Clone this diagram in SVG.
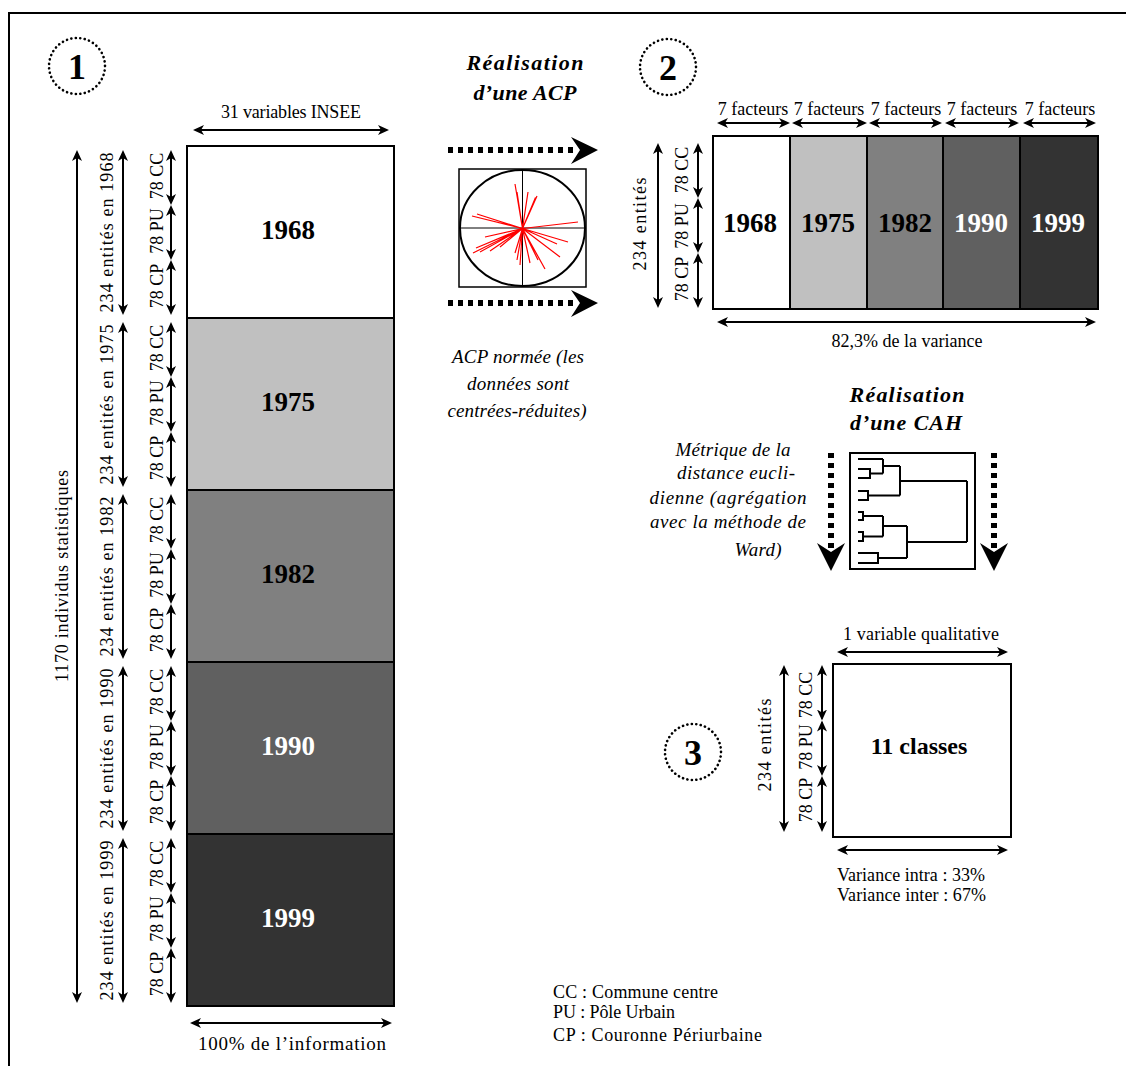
<svg xmlns="http://www.w3.org/2000/svg" width="1126" height="1066" viewBox="0 0 1126 1066">
<style>
text{font-family:"Liberation Serif","DejaVu Serif",serif;fill:#000}
.l{font-size:18px}
.s{font-size:18px}
.yr{font-size:27px;font-weight:bold}
.w{fill:#fff}
.it{font-style:italic;font-size:19px}
.ti{font-style:italic;font-weight:bold;font-size:22px}
.num{font-size:36px;font-weight:bold}
.arr{stroke:#000;stroke-width:2;fill:none;marker-start:url(#ah);marker-end:url(#ah)}
.dot{stroke:#000;stroke-width:6;stroke-dasharray:5 5;fill:none}
.circ{fill:none;stroke:#000;stroke-width:2.6;stroke-dasharray:0.1 4.4;stroke-linecap:round}
.box{stroke:#000;stroke-width:2}
.red{stroke:#f00;stroke-width:1.2}
</style>
<defs>
<marker id="ah" viewBox="0 -6 12 12" refX="9" refY="0" markerWidth="12" markerHeight="12" markerUnits="userSpaceOnUse" orient="auto-start-reverse">
<path d="M0,-5 L11,0 L0,5 L3,0 Z" fill="#000"/>
</marker>
</defs>
<rect width="1126" height="1066" fill="#fff"/>
<path d="M9,1066 V13 H1126" fill="none" stroke="#000" stroke-width="2"/>

<!-- Step 1 -->
<g id="num1"><circle class="circ" cx="77" cy="66" r="28"/><text class="num" x="77" y="79" text-anchor="middle">1</text></g>
<g id="block1">
<rect class="box" x="187" y="146" width="207" height="172" fill="#fff"/>
<rect class="box" x="187" y="318" width="207" height="172" fill="#c0c0c0"/>
<rect class="box" x="187" y="490" width="207" height="172" fill="#808080"/>
<rect class="box" x="187" y="662" width="207" height="172" fill="#606060"/>
<rect class="box" x="187" y="834" width="207" height="172" fill="#333"/>
<text class="yr" x="288" y="239" text-anchor="middle">1968</text>
<text class="yr" x="288" y="411" text-anchor="middle">1975</text>
<text class="yr" x="288" y="583" text-anchor="middle">1982</text>
<text class="yr w" x="288" y="755" text-anchor="middle">1990</text>
<text class="yr w" x="288" y="927" text-anchor="middle">1999</text>
</g>
<g id="labels1">
<text class="l" x="291" y="118" text-anchor="middle" textLength="140">31 variables INSEE</text>
<text x="292" y="1050" text-anchor="middle" font-size="19" textLength="188">100% de l’information</text>
<text class="l" transform="translate(68,576) rotate(-90)" text-anchor="middle" textLength="212">1170 individus statistiques</text>
<text class="l" transform="translate(113,232.5) rotate(-90)" text-anchor="middle" textLength="160">234 entités en 1968</text>
<text class="l" transform="translate(113,404.5) rotate(-90)" text-anchor="middle" textLength="160">234 entités en 1975</text>
<text class="l" transform="translate(113,576.5) rotate(-90)" text-anchor="middle" textLength="160">234 entités en 1982</text>
<text class="l" transform="translate(113,748.5) rotate(-90)" text-anchor="middle" textLength="160">234 entités en 1990</text>
<text class="l" transform="translate(113,920.5) rotate(-90)" text-anchor="middle" textLength="160">234 entités en 1999</text>
<g text-anchor="middle">
<text class="l" transform="translate(163,176) rotate(-90)">78 CC</text>
<text class="l" transform="translate(163,231) rotate(-90)">78 PU</text>
<text class="l" transform="translate(163,286) rotate(-90)">78 CP</text>
<text class="l" transform="translate(163,348) rotate(-90)">78 CC</text>
<text class="l" transform="translate(163,403) rotate(-90)">78 PU</text>
<text class="l" transform="translate(163,458) rotate(-90)">78 CP</text>
<text class="l" transform="translate(163,520) rotate(-90)">78 CC</text>
<text class="l" transform="translate(163,575) rotate(-90)">78 PU</text>
<text class="l" transform="translate(163,630) rotate(-90)">78 CP</text>
<text class="l" transform="translate(163,692) rotate(-90)">78 CC</text>
<text class="l" transform="translate(163,747) rotate(-90)">78 PU</text>
<text class="l" transform="translate(163,802) rotate(-90)">78 CP</text>
<text class="l" transform="translate(163,864) rotate(-90)">78 CC</text>
<text class="l" transform="translate(163,919) rotate(-90)">78 PU</text>
<text class="l" transform="translate(163,974) rotate(-90)">78 CP</text>
</g>
</g>

<!-- ACP -->
<g id="acp-title">
<text class="ti" x="525" y="70" text-anchor="middle" textLength="117">Réalisation</text>
<text class="ti" x="525" y="100" text-anchor="middle" textLength="103">d’une ACP</text>
</g>
<g id="acp-plot">
<rect x="459" y="169" width="127" height="118" fill="#fff" stroke="#000" stroke-width="1.5"/>
<ellipse cx="522.5" cy="228" rx="62.5" ry="58" fill="none" stroke="#000" stroke-width="2"/>
<path d="M522.5,169 V287 M459,228 H586" stroke="#000" stroke-width="1"/>
<g class="red">
<path d="M522.5,228.5 L515,184 M522.5,228.5 L517,192 M522.5,228.5 L528,192 M522.5,228.5 L537,196 M522.5,228.5 L535.5,197.5 M522.5,228.5 L477,214 M522.5,228.5 L472,216 M522.5,228.5 L578,222 M522.5,228.5 L485,237 M522.5,228.5 L473,253 M522.5,228.5 L480,252 M522.5,228.5 L490,251 M522.5,228.5 L500,247 M522.5,228.5 L568,242 M522.5,228.5 L557,244 M522.5,228.5 L560,257 M522.5,228.5 L545,269 M522.5,228.5 L530,263 M522.5,228.5 L517,260 M522.5,228.5 L515,253 M522.5,228.5 L538,260 M522.5,228.5 L476,248 M522.5,228.5 L520,265"/>
</g>
</g>
<g id="acp-text">
<text class="it" x="518" y="363" text-anchor="middle" textLength="132">ACP normée (les</text>
<text class="it" x="518" y="390" text-anchor="middle" textLength="102">données sont</text>
<text class="it" x="517" y="417" text-anchor="middle" textLength="139">centrées-réduites)</text>
</g>

<!-- Step 2 -->
<g id="num2"><circle class="circ" cx="668" cy="67" r="28"/><text class="num" x="668" y="80" text-anchor="middle">2</text></g>
<g id="block2">
<rect class="box" x="713" y="136" width="77" height="173" fill="#fff"/>
<rect class="box" x="790" y="136" width="77" height="173" fill="#c0c0c0"/>
<rect class="box" x="867" y="136" width="76" height="173" fill="#808080"/>
<rect class="box" x="943" y="136" width="77" height="173" fill="#606060"/>
<rect class="box" x="1020" y="136" width="78" height="173" fill="#333"/>
<text class="yr" x="750" y="232" text-anchor="middle">1968</text>
<text class="yr" x="828" y="232" text-anchor="middle">1975</text>
<text class="yr" x="905" y="232" text-anchor="middle">1982</text>
<text class="yr w" x="981" y="232" text-anchor="middle">1990</text>
<text class="yr w" x="1058" y="232" text-anchor="middle">1999</text>
</g>
<g id="labels2">
<text class="l" x="753" y="115" text-anchor="middle">7 facteurs</text>
<text class="l" x="829" y="115" text-anchor="middle">7 facteurs</text>
<text class="l" x="906" y="115" text-anchor="middle">7 facteurs</text>
<text class="l" x="982" y="115" text-anchor="middle">7 facteurs</text>
<text class="l" x="1060" y="115" text-anchor="middle">7 facteurs</text>
<text class="l" x="907" y="347" text-anchor="middle" textLength="151">82,3% de la variance</text>
<text class="l" transform="translate(646,224) rotate(-90)" text-anchor="middle" textLength="93">234 entités</text>
<text class="l" transform="translate(688,170) rotate(-90)" text-anchor="middle">78 CC</text>
<text class="l" transform="translate(688,226) rotate(-90)" text-anchor="middle">78 PU</text>
<text class="l" transform="translate(688,279) rotate(-90)" text-anchor="middle">78 CP</text>
</g>

<!-- CAH -->
<g id="cah-title">
<text class="ti" x="907" y="402" text-anchor="middle" textLength="115">Réalisation</text>
<text class="ti" x="906" y="430" text-anchor="middle" textLength="112">d’une CAH</text>
</g>
<g id="cah-text">
<text class="it" x="733" y="456" text-anchor="middle" textLength="115">Métrique de la</text>
<text class="it" x="736" y="479" text-anchor="middle" textLength="118">distance eucli-</text>
<text class="it" x="728" y="504" text-anchor="middle" textLength="157">dienne (agrégation</text>
<text class="it" x="728" y="528" text-anchor="middle" textLength="156">avec la méthode de</text>
<text class="it" x="758" y="556" text-anchor="middle" textLength="47">Ward)</text>
</g>
<g id="cah-plot">
<rect x="850" y="453" width="125" height="116" fill="#fff" stroke="#000" stroke-width="2"/>
<path fill="none" stroke="#000" stroke-width="2" d="M858,459 H883 M858,469 H870 V478 H858 M870,473.5 H883 M883,459 V473.5 M883,466 H900 M858,491 H868 V500 H858 M868,495.5 H900 M900,466 V495.5 M900,481 H967 M858,512 H863 V520 H858 M863,516 H883 M858,532 H863 V541 H858 M863,536.5 H883 M883,516 V536.5 M883,526 H907 M858,553 H878 V563 H858 M878,558 H907 M907,526 V558 M907,542 H967 M967,481 V542"/>
</g>

<!-- Step 3 -->
<g id="num3"><circle class="circ" cx="693" cy="752" r="28"/><text class="num" x="693" y="765" text-anchor="middle">3</text></g>
<g id="block3">
<rect class="box" x="833" y="664" width="178" height="173" fill="#fff"/>
<text x="919" y="754" text-anchor="middle" font-size="24" font-weight="bold">11 classes</text>
</g>
<g id="labels3">
<text class="l" x="921" y="640" text-anchor="middle" textLength="156">1 variable qualitative</text>
<text class="s" x="837" y="881" textLength="148">Variance intra : 33%</text>
<text class="s" x="837" y="901" textLength="149">Variance inter : 67%</text>
<text class="l" transform="translate(771,745) rotate(-90)" text-anchor="middle" textLength="93">234 entités</text>
<text class="l" transform="translate(812,695) rotate(-90)" text-anchor="middle">78 CC</text>
<text class="l" transform="translate(812,747) rotate(-90)" text-anchor="middle">78 PU</text>
<text class="l" transform="translate(812,800) rotate(-90)" text-anchor="middle">78 CP</text>
</g>

<g id="legend">
<text class="s" x="553" y="998" textLength="165">CC : Commune centre</text>
<text class="s" x="553" y="1018" textLength="122">PU : Pôle Urbain</text>
<text class="s" x="553" y="1041" textLength="209">CP : Couronne Périurbaine</text>
</g>

<g id="connectors">
<line class="arr" x1="195" y1="130" x2="387" y2="130"/>
<line class="arr" x1="192" y1="1023" x2="390" y2="1023"/>
<line class="arr" x1="77" y1="152" x2="77" y2="1001"/>
<line class="arr" x1="123" y1="152" x2="123" y2="313"/>
<line class="arr" x1="123" y1="324" x2="123" y2="485"/>
<line class="arr" x1="123" y1="496" x2="123" y2="657"/>
<line class="arr" x1="123" y1="668" x2="123" y2="829"/>
<line class="arr" x1="123" y1="840" x2="123" y2="1001"/>
<line class="arr" x1="171" y1="152" x2="171" y2="203"/>
<line class="arr" x1="171" y1="207" x2="171" y2="258"/>
<line class="arr" x1="171" y1="262" x2="171" y2="313"/>
<line class="arr" x1="171" y1="324" x2="171" y2="375"/>
<line class="arr" x1="171" y1="379" x2="171" y2="430"/>
<line class="arr" x1="171" y1="434" x2="171" y2="485"/>
<line class="arr" x1="171" y1="496" x2="171" y2="547"/>
<line class="arr" x1="171" y1="551" x2="171" y2="602"/>
<line class="arr" x1="171" y1="606" x2="171" y2="657"/>
<line class="arr" x1="171" y1="668" x2="171" y2="719"/>
<line class="arr" x1="171" y1="723" x2="171" y2="774"/>
<line class="arr" x1="171" y1="778" x2="171" y2="829"/>
<line class="arr" x1="171" y1="840" x2="171" y2="891"/>
<line class="arr" x1="171" y1="895" x2="171" y2="946"/>
<line class="arr" x1="171" y1="950" x2="171" y2="1001"/>

<line class="arr" x1="719" y1="123" x2="788" y2="123"/>
<line class="arr" x1="794" y1="123" x2="865" y2="123"/>
<line class="arr" x1="871" y1="123" x2="940" y2="123"/>
<line class="arr" x1="947" y1="123" x2="1017" y2="123"/>
<line class="arr" x1="1025" y1="123" x2="1094" y2="123"/>
<line class="arr" x1="719" y1="322" x2="1094" y2="322"/>
<line class="arr" x1="658" y1="145" x2="658" y2="306"/>
<line class="arr" x1="698" y1="145" x2="698" y2="196"/>
<line class="arr" x1="698" y1="200" x2="698" y2="251"/>
<line class="arr" x1="698" y1="255" x2="698" y2="306"/>

<line class="arr" x1="839" y1="652" x2="1006" y2="652"/>
<line class="arr" x1="839" y1="850" x2="1006" y2="850"/>
<line class="arr" x1="784" y1="667" x2="784" y2="830"/>
<line class="arr" x1="822" y1="667" x2="822" y2="718.5"/>
<line class="arr" x1="822" y1="722.5" x2="822" y2="774"/>
<line class="arr" x1="822" y1="778" x2="822" y2="830"/>

<line class="dot" x1="448" y1="150" x2="576" y2="150"/>
<polygon points="571,137 598,150 571,164 580,150" fill="#000"/>
<line class="dot" x1="448" y1="303" x2="576" y2="303"/>
<polygon points="571,290 598,303 571,317 580,303" fill="#000"/>
<line class="dot" x1="831" y1="453" x2="831" y2="548"/>
<polygon points="817,543 831,571 845,543 831,552" fill="#000"/>
<line class="dot" x1="994" y1="453" x2="994" y2="548"/>
<polygon points="980,543 994,571 1008,543 994,552" fill="#000"/>
</g>
</svg>
